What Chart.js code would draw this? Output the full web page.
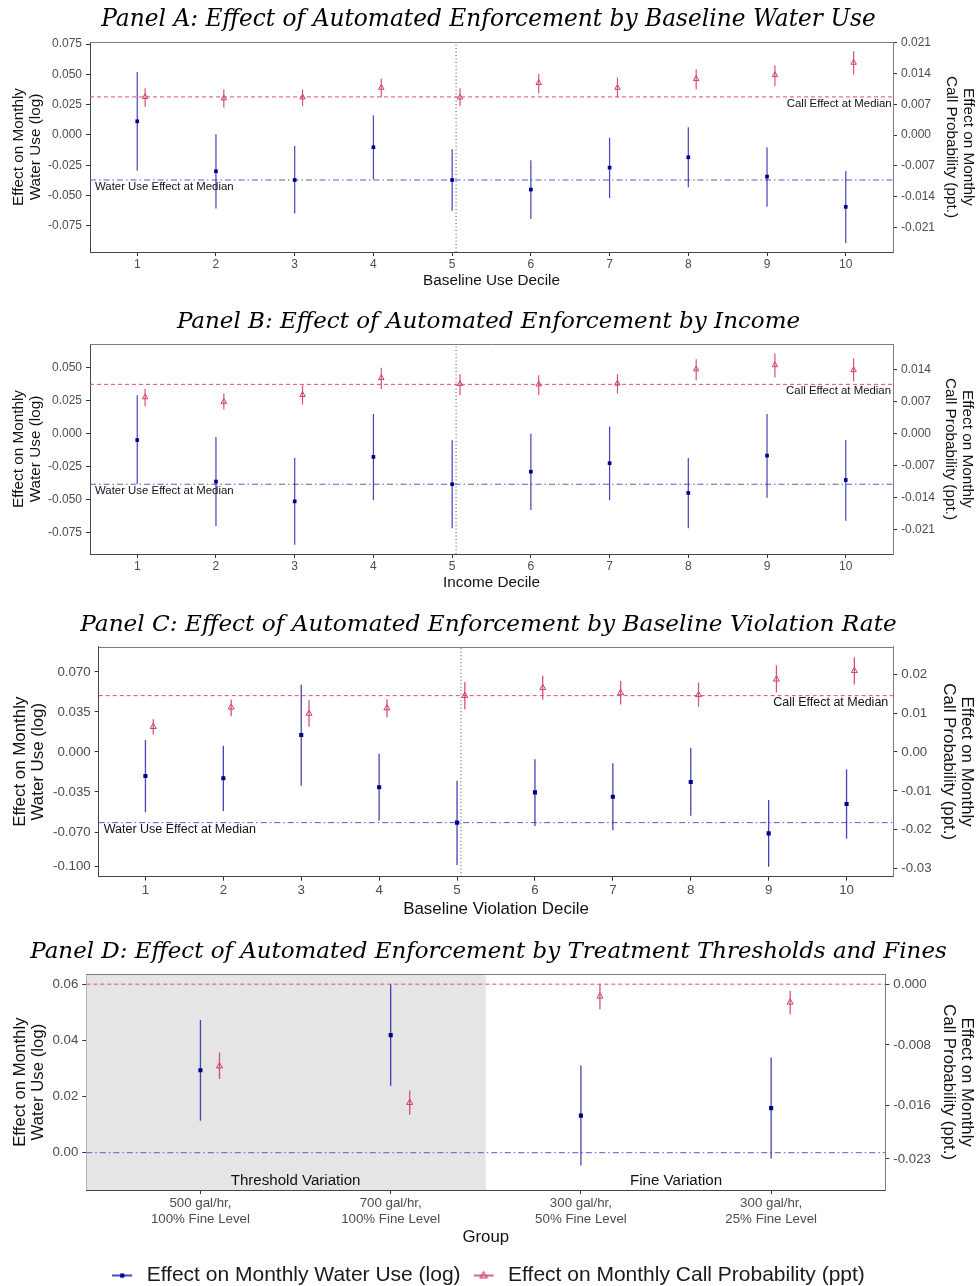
<!DOCTYPE html>
<html>
<head>
<meta charset="utf-8">
<title>Effect of Automated Enforcement</title>
<script src="https://cdn.jsdelivr.net/npm/chart.js@4.4.1/dist/chart.umd.min.js"></script>
<style>
  html, body { margin: 0; padding: 0; background: #ffffff; }
  body { position: relative; width: 977px; height: 1286px; overflow: hidden; }
  canvas { position: absolute; left: 0; display: block; }
</style>
</head>
<body>
<canvas id="panelA" width="977" height="296" style="top:0px"></canvas>
<canvas id="panelB" width="977" height="300" style="top:300px"></canvas>
<canvas id="panelC" width="977" height="325" style="top:600px"></canvas>
<canvas id="panelD" width="977" height="371" style="top:925px"></canvas>
<script>
// ================= DATA =================
const deciles = [1, 2, 3, 4, 5, 6, 7, 8, 9, 10];
const decileLabels = ['1', '2', '3', '4', '5', '6', '7', '8', '9', '10'];
const medianDecileMarker = 5.05;
const callOffset = 0.1;

const seriesWater = 'Effect on Monthly Water Use (log)';
const seriesCall = 'Effect on Monthly Call Probability (ppt)';
const leftAxisTitle = ['Effect on Monthly', 'Water Use (log)'];
const rightAxisTitle = ['Effect on Monthly', 'Call Probability (ppt.)'];
const waterMedianText = 'Water Use Effect at Median';
const callMedianText = 'Call Effect at Median';

// ---- Panel A: baseline water use ----
const titleA = 'Panel A: Effect of Automated Enforcement by Baseline Water Use';
const xTitleA = 'Baseline Use Decile';
const aWaterEst = [0.0113, -0.0299, -0.0371, -0.0101, -0.0371, -0.0450, -0.0269, -0.0184, -0.0343, -0.0593];
const aWaterLo  = [-0.0294, -0.0607, -0.0648, -0.0365, -0.0624, -0.0692, -0.0519, -0.0431, -0.0591, -0.0890];
const aWaterHi  = [0.0519, 0.0006, -0.0091, 0.0162, -0.0118, -0.0209, -0.0022, 0.0063, -0.0101, -0.0297];
const aCallEst  = [0.0087, 0.0084, 0.0086, 0.0108, 0.0086, 0.0119, 0.0108, 0.0128, 0.0137, 0.0165];
const aCallLo   = [0.0064, 0.0063, 0.0066, 0.0087, 0.0066, 0.0095, 0.0086, 0.0104, 0.0112, 0.0138];
const aCallHi   = [0.0107, 0.0104, 0.0104, 0.0129, 0.0107, 0.0139, 0.0131, 0.0150, 0.0159, 0.0191];
const aWaterMedian = -0.0371;
const aCallMedian = 0.0087;
const aLeftTicks = [-0.075, -0.05, -0.025, 0, 0.025, 0.05, 0.075];
const aRightTicks = [-0.021, -0.014, -0.007, 0, 0.007, 0.014, 0.021];
const aLeftRange = [-0.0965, 0.0767];
const aRightRange = [-0.0266, 0.0212];

// ---- Panel B: income ----
const titleB = 'Panel B: Effect of Automated Enforcement by Income';
const xTitleB = 'Income Decile';
const bWaterEst = [-0.0051, -0.0366, -0.0516, -0.0179, -0.0386, -0.0291, -0.0227, -0.0452, -0.0169, -0.0354];
const bWaterLo  = [-0.0384, -0.0702, -0.0844, -0.0508, -0.0720, -0.0581, -0.0508, -0.0720, -0.0488, -0.0662];
const bWaterHi  = [0.0288, -0.0028, -0.0187, 0.0147, -0.0053, -0.0003, 0.0051, -0.0187, 0.0147, -0.0051];
const bCallEst  = [0.0079, 0.0069, 0.0084, 0.0121, 0.0108, 0.0107, 0.0109, 0.0140, 0.0149, 0.0138];
const bCallLo   = [0.0059, 0.0052, 0.0063, 0.0097, 0.0084, 0.0084, 0.0087, 0.0116, 0.0122, 0.0113];
const bCallHi   = [0.0097, 0.0087, 0.0105, 0.0143, 0.0129, 0.0127, 0.0129, 0.0162, 0.0175, 0.0164];
const bWaterMedian = -0.0386;
const bCallMedian = 0.0107;
const bLeftTicks = [-0.075, -0.05, -0.025, 0, 0.025, 0.05];
const bRightTicks = [-0.021, -0.014, -0.007, 0, 0.007, 0.014];
const bLeftRange = [-0.0915, 0.0677];
const bRightRange = [-0.0263, 0.0195];

// ---- Panel C: baseline violation rate ----
const titleC = 'Panel C: Effect of Automated Enforcement by Baseline Violation Rate';
const xTitleC = 'Baseline Violation Decile';
const cWaterEst = [-0.0210, -0.0230, 0.0149, -0.0309, -0.0618, -0.0353, -0.0391, -0.0263, -0.0712, -0.0455];
const cWaterLo  = [-0.0528, -0.0516, -0.0295, -0.0601, -0.0989, -0.0648, -0.0685, -0.0557, -0.1003, -0.0758];
const cWaterHi  = [0.0105, 0.0055, 0.0589, -0.0015, -0.0251, -0.0064, -0.0099, 0.0035, -0.0420, -0.0152];
const cCallEst  = [0.0065, 0.0115, 0.0099, 0.0113, 0.0145, 0.0165, 0.0152, 0.0147, 0.0187, 0.0209];
const cCallLo   = [0.0045, 0.0092, 0.0065, 0.0089, 0.0110, 0.0135, 0.0122, 0.0117, 0.0153, 0.0174];
const cCallHi   = [0.0084, 0.0135, 0.0134, 0.0136, 0.0180, 0.0196, 0.0183, 0.0179, 0.0223, 0.0244];
const cWaterMedian = -0.0618;
const cCallMedian = 0.0145;
const cLeftTicks = [-0.1, -0.07, -0.035, 0, 0.035, 0.07];
const cRightTicks = [-0.03, -0.02, -0.01, 0, 0.01, 0.02];
const cLeftRange = [-0.1091, 0.0921];
const cRightRange = [-0.0321, 0.0271];

// ---- Panel D: thresholds and fines ----
const titleD = 'Panel D: Effect of Automated Enforcement by Treatment Thresholds and Fines';
const xTitleD = 'Group';
const groupPositions = [1, 2, 3, 4];
const groupLabels = [
  ['500 gal/hr,', '100% Fine Level'],
  ['700 gal/hr,', '100% Fine Level'],
  ['300 gal/hr,', '50% Fine Level'],
  ['300 gal/hr,', '25% Fine Level']
];
const groupFamilies = ['Threshold Variation', 'Fine Variation'];
const groupFamilyCenters = [1.5, 3.5];
const thresholdGroupEnd = 2.5;
const dWaterEst = [0.0294, 0.0419, 0.0132, 0.0159];
const dWaterLo  = [0.0114, 0.0239, -0.0046, -0.0021];
const dWaterHi  = [0.0473, 0.0600, 0.0312, 0.0339];
const dCallEst  = [-0.0108, -0.0156, -0.0016, -0.0024];
const dCallLo   = [-0.0125, -0.0172, -0.0033, -0.0040];
const dCallHi   = [-0.0090, -0.0140, 0.0000, -0.0009];
const dWaterRef = 0;
const dCallRef = 0;
const dLeftTicks = [0, 0.02, 0.04, 0.06];
const dRightTicks = [-0.023, -0.016, -0.008, 0];
const dLeftRange = [-0.0133, 0.0636];
const dRightRange = [-0.0271, 0.0013];

// ================= STYLE =================
const SANS = "'Liberation Sans', Arial, Helvetica, sans-serif";
const SERIF = "'DejaVu Serif', 'Liberation Serif', serif";
const NAVY = '#00008b';
const BAR_BLUE = 'rgba(28,28,165,0.82)';
const PINK = '#cf3f72';
const PINK_BAR = 'rgba(204,52,106,0.85)';
const MED_BLUE = '#5a5acc';
const MED_PINK = '#de4a7c';
const TICK_COL = '#4d4d4d';
const AXIS_DARK = '#454545';
const AXIS_LIGHT = '#7d7d7d';

// ================= HELPERS =================
function errorSegments(xs, lo, hi, shift) {
  const out = [];
  xs.forEach((x, i) => {
    out.push({x: x + shift, y: lo[i]}, {x: x + shift, y: hi[i]}, {x: x + shift, y: null});
  });
  return out;
}
function pointsOf(xs, ys, shift) { return xs.map((x, i) => ({x: x + shift, y: ys[i]})); }
function hLine(x0, x1, v) { return [{x: x0, y: v}, {x: x1, y: v}]; }

function legendIcon(kind) {
  const c = document.createElement('canvas');
  c.width = 24; c.height = 12;
  const g = c.getContext('2d');
  const col = kind === 'water' ? '#1c1ca5' : PINK;
  g.strokeStyle = col; g.lineWidth = 1.6;
  g.beginPath(); g.moveTo(0, 6); g.lineTo(20, 6); g.stroke();
  if (kind === 'water') {
    g.fillStyle = NAVY; g.fillRect(8, 4, 4.2, 4.2);
  } else {
    g.lineWidth = 1.1; g.beginPath();
    g.moveTo(10, 2.2); g.lineTo(13.6, 8.4); g.lineTo(6.4, 8.4); g.closePath(); g.stroke();
  }
  return c;
}

const annotPlugin = {
  id: 'annot',
  beforeDatasetsDraw(chart, args, o) {
    const ctx = chart.ctx, a = chart.chartArea, xs = chart.scales.x;
    if (o.shade) {
      const x0 = xs.getPixelForValue(o.shade.from), x1 = xs.getPixelForValue(o.shade.to);
      ctx.save(); ctx.fillStyle = o.shade.color;
      ctx.fillRect(x0, a.top, x1 - x0, a.bottom - a.top);
      ctx.restore();
    }
  },
  afterDatasetsDraw(chart, args, o) {
    const ctx = chart.ctx, a = chart.chartArea;
    ctx.save();
    (o.texts || []).forEach(t => {
      let x, y;
      if (t.edge === 'left') x = a.left + t.dx;
      else if (t.edge === 'right') x = a.right + t.dx;
      else x = chart.scales.x.getPixelForValue(t.xValue);
      if (t.axis) y = chart.scales[t.axis].getPixelForValue(t.yValue) + t.dy;
      else y = a.bottom + t.dy;
      ctx.font = t.size + 'px ' + SANS;
      ctx.fillStyle = '#111';
      ctx.textAlign = t.align;
      ctx.textBaseline = 'middle';
      ctx.fillText(t.text, x, y);
    });
    // top frame line
    ctx.strokeStyle = AXIS_LIGHT; ctx.lineWidth = 1;
    const yt = Math.round(a.top) + 0.5;
    ctx.beginPath(); ctx.moveTo(a.left, yt); ctx.lineTo(a.right, yt); ctx.stroke();
    ctx.restore();
  }
};

function yAxis(pos, range, ticks, dec, title, width, titlePad, tickSize, titleSize, border) {
  return {
    type: 'linear', position: pos, min: range[0], max: range[1],
    afterBuildTicks: s => { s.ticks = ticks.map(v => ({value: v})); },
    afterFit: s => { s.width = width; },
    ticks: {
      callback: v => (Math.abs(v) < 1e-12 ? 0 : v).toFixed(dec),
      color: TICK_COL, font: {family: SANS, size: tickSize}, padding: 4
    },
    grid: { drawOnChartArea: false, drawTicks: true, tickLength: 4, tickColor: '#333', color: '#333', lineWidth: 1 },
    border: { display: true, color: border, width: 1 },
    title: { display: true, text: title, color: '#111', font: {family: SANS, size: titleSize, lineHeight: 1.1}, padding: {top: titlePad, bottom: 0} }
  };
}

function buildPanel(id, P) {
  const canvas = document.getElementById(id);
  const H = canvas.height;
  const titleBox = P.headSize * 1.2;
  const datasets = [
    {type: 'scatter', label: seriesWater, data: pointsOf(P.xs, P.waterEst, 0), pointStyle: 'rect',
     pointRadius: P.sq, backgroundColor: NAVY, borderColor: NAVY, borderWidth: 0, yAxisID: 'y', order: 0},
    {type: 'scatter', label: seriesCall, data: pointsOf(P.xs, P.callEst, callOffset), pointStyle: 'triangle',
     pointRadius: P.tri, backgroundColor: 'rgba(255,255,255,0)', borderColor: PINK, borderWidth: 1, yAxisID: 'y2', order: 0},
    {type: 'line', label: 'water CI', data: errorSegments(P.xs, P.waterLo, P.waterHi, 0), borderColor: BAR_BLUE,
     borderWidth: P.bw, pointRadius: 0, spanGaps: false, yAxisID: 'y', order: 1},
    {type: 'line', label: 'call CI', data: errorSegments(P.xs, P.callLo, P.callHi, callOffset), borderColor: PINK_BAR,
     borderWidth: P.bw, pointRadius: 0, spanGaps: false, yAxisID: 'y2', order: 1},
    {type: 'line', label: 'water ref', data: hLine(P.xMin, P.xMax, P.waterRef), borderColor: MED_BLUE, borderWidth: 1,
     borderDash: [6, 3, 1.5, 3], pointRadius: 0, yAxisID: 'y', order: 2},
    {type: 'line', label: 'call ref', data: hLine(P.xMin, P.xMax, P.callRef), borderColor: MED_PINK, borderWidth: 1,
     borderDash: [4, 3], pointRadius: 0, yAxisID: 'y2', order: 2}
  ];
  if (P.split != null) {
    datasets.push({type: 'line', label: 'median decile', data: [{x: P.split, y: P.yLeft[0]}, {x: P.split, y: P.yLeft[1]}],
      borderColor: '#3a3a3a', borderWidth: 0.9, borderDash: [1, 2.5], pointRadius: 0, yAxisID: 'y', order: 3});
  }
  return new Chart(canvas, {
    type: 'scatter',
    data: { datasets },
    plugins: [annotPlugin],
    options: {
      responsive: false, animation: false, events: [],
      layout: { padding: 0 },
      scales: {
        x: {
          type: 'linear', position: 'bottom', min: P.xMin, max: P.xMax,
          afterBuildTicks: s => { s.ticks = P.xs.map(v => ({value: v})); },
          afterFit: s => { const lg = s.chart.legend; s.height = H - (lg ? lg.height : 0) - P.plotBottom; },
          ticks: { callback: (v, i) => P.xLabels[i], color: TICK_COL, font: {family: SANS, size: P.tickSize},
                   padding: P.xTickPad, maxRotation: 0, autoSkip: false },
          grid: { drawOnChartArea: false, drawTicks: true, tickLength: 4, tickColor: '#333', color: '#333' },
          border: { display: true, color: AXIS_DARK, width: 1 },
          title: { display: true, text: P.xTitle, color: '#111', font: {family: SANS, size: P.titleSize, lineHeight: 1.1},
                   padding: {top: 0, bottom: P.xTitlePad} }
        },
        y: yAxis('left', P.yLeft, P.leftTicks, P.leftDec, leftAxisTitle, P.leftW, P.leftTitlePad, P.tickSize, P.titleSize, AXIS_DARK),
        y2: yAxis('right', P.yRight, P.rightTicks, P.rightDec, rightAxisTitle, P.rightW, P.rightTitlePad, P.tickSize, P.titleSize, AXIS_LIGHT)
      },
      plugins: {
        tooltip: { enabled: false },
        title: {
          display: true, text: P.title, fullSize: true, color: '#000',
          font: {family: SERIF, size: P.headSize, style: 'italic', weight: 'normal', lineHeight: 1.2},
          padding: {top: P.titleCenter - titleBox / 2, bottom: P.plotTop - P.titleCenter - titleBox / 2}
        },
        legend: P.legend ? {
          display: true, position: 'bottom', align: 'center',
          labels: {
            usePointStyle: true, pointStyleWidth: 24, padding: 13, color: '#1a1a1a',
            font: {family: SANS, size: 21},
            generateLabels: () => [
              {text: seriesWater, pointStyle: legendIcon('water'), fillStyle: 'rgba(0,0,0,0)', strokeStyle: 'rgba(0,0,0,0)', lineWidth: 0, hidden: false, datasetIndex: 0, fontColor: '#1a1a1a'},
              {text: seriesCall, pointStyle: legendIcon('call'), fillStyle: 'rgba(0,0,0,0)', strokeStyle: 'rgba(0,0,0,0)', lineWidth: 0, hidden: false, datasetIndex: 1, fontColor: '#1a1a1a'}
            ]
          }
        } : { display: false },
        annot: { texts: P.texts, shade: P.shade || null }
      }
    }
  });
}

function medianTexts(waterRef, callRef, size, callDx) {
  return [
    {text: waterMedianText, edge: 'left', dx: 5, axis: 'y', yValue: waterRef, dy: 6.5, align: 'left', size},
    {text: callMedianText, edge: 'right', dx: callDx, axis: 'y2', yValue: callRef, dy: 6.5, align: 'right', size}
  ];
}

buildPanel('panelA', {
  title: titleA, xTitle: xTitleA, xs: deciles, xLabels: decileLabels, xMin: 0.4, xMax: 10.6,
  waterEst: aWaterEst, waterLo: aWaterLo, waterHi: aWaterHi, callEst: aCallEst, callLo: aCallLo, callHi: aCallHi,
  waterRef: aWaterMedian, callRef: aCallMedian, split: medianDecileMarker,
  yLeft: aLeftRange, yRight: aRightRange, leftTicks: aLeftTicks, rightTicks: aRightTicks, leftDec: 3, rightDec: 3,
  plotTop: 42, plotBottom: 252, leftW: 90, rightW: 84, titleCenter: 20, headSize: 23.3,
  leftTitlePad: 10.6, rightTitlePad: 0.6, xTitlePad: 6.6, xTickPad: 1,
  tickSize: 12, titleSize: 15.3, sq: 2.6, tri: 3.2, bw: 1.2,
  texts: medianTexts(aWaterMedian, aCallMedian, 11.4, -1.3)
});
buildPanel('panelB', {
  title: titleB, xTitle: xTitleB, xs: deciles, xLabels: decileLabels, xMin: 0.4, xMax: 10.6,
  waterEst: bWaterEst, waterLo: bWaterLo, waterHi: bWaterHi, callEst: bCallEst, callLo: bCallLo, callHi: bCallHi,
  waterRef: bWaterMedian, callRef: bCallMedian, split: medianDecileMarker,
  yLeft: bLeftRange, yRight: bRightRange, leftTicks: bLeftTicks, rightTicks: bRightTicks, leftDec: 3, rightDec: 3,
  plotTop: 44, plotBottom: 254, leftW: 90, rightW: 84, titleCenter: 22, headSize: 23,
  leftTitlePad: 10.6, rightTitlePad: 1.2, xTitlePad: 8.6, xTickPad: 1.5,
  tickSize: 12, titleSize: 15.3, sq: 2.6, tri: 3.2, bw: 1.2,
  texts: medianTexts(bWaterMedian, bCallMedian, 11.4, -2)
});
buildPanel('panelC', {
  title: titleC, xTitle: xTitleC, xs: deciles, xLabels: decileLabels, xMin: 0.4, xMax: 10.6,
  waterEst: cWaterEst, waterLo: cWaterLo, waterHi: cWaterHi, callEst: cCallEst, callLo: cCallLo, callHi: cCallHi,
  waterRef: cWaterMedian, callRef: cCallMedian, split: medianDecileMarker,
  yLeft: cLeftRange, yRight: cRightRange, leftTicks: cLeftTicks, rightTicks: cRightTicks, leftDec: 3, rightDec: 2,
  plotTop: 46.7, plotBottom: 276.7, leftW: 98.7, rightW: 83.7, titleCenter: 24.5, headSize: 23.2,
  leftTitlePad: 10.7, rightTitlePad: 0.7, xTitlePad: 6.7, xTickPad: 1.3,
  tickSize: 13.3, titleSize: 16.9, sq: 2.9, tri: 3.5, bw: 1.3,
  texts: medianTexts(cWaterMedian, cCallMedian, 12.5, -5)
});
buildPanel('panelD', {
  title: titleD, xTitle: xTitleD, xs: groupPositions, xLabels: groupLabels, xMin: 0.4, xMax: 4.6,
  waterEst: dWaterEst, waterLo: dWaterLo, waterHi: dWaterHi, callEst: dCallEst, callLo: dCallLo, callHi: dCallHi,
  waterRef: dWaterRef, callRef: dCallRef, split: null,
  yLeft: dLeftRange, yRight: dRightRange, leftTicks: dLeftTicks, rightTicks: dRightTicks, leftDec: 2, rightDec: 3,
  plotTop: 49.3, plotBottom: 265, leftW: 86.3, rightW: 91.7, titleCenter: 27, headSize: 22.95,
  leftTitlePad: 10.8, rightTitlePad: 0.8, xTitlePad: 5, xTickPad: 1.3,
  tickSize: 13.3, titleSize: 16.8, sq: 2.9, tri: 3.5, bw: 1.3,
  legend: true,
  shade: {from: 0.4, to: thresholdGroupEnd, color: '#e5e5e5'},
  texts: [
    {text: groupFamilies[0], xValue: groupFamilyCenters[0], dy: -9, align: 'center', size: 15.1},
    {text: groupFamilies[1], xValue: groupFamilyCenters[1], dy: -9, align: 'center', size: 15.1}
  ]
});
</script>
</body>
</html>
